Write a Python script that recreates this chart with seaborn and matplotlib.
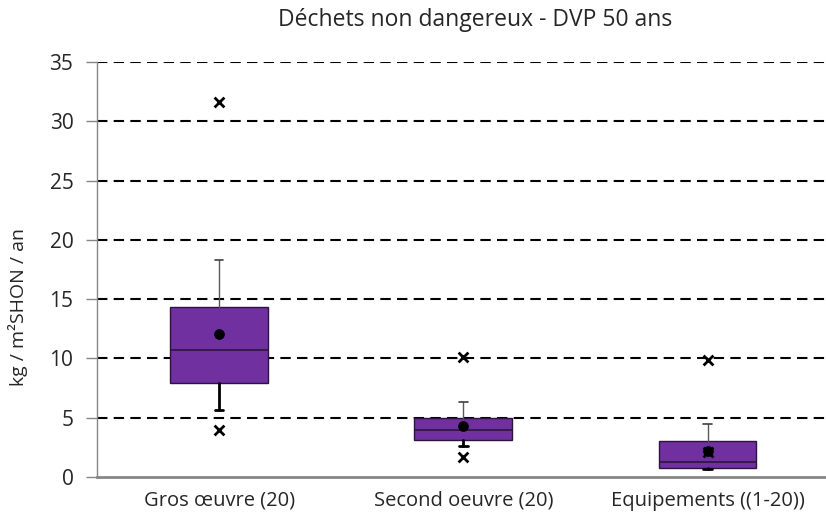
import pandas as pd
import seaborn as sns
import matplotlib.pyplot as plt

categories = ["Gros œuvre (20)", "Second oeuvre (20)", "Equipements ((1-20))"]
q1 = [7.9, 3.1, 0.8]
median = [10.7, 3.95, 1.3]
q3 = [14.35, 4.95, 3.05]
whisk_low = [5.65, 2.6, 0.65]
whisk_high = [18.3, 6.35, 4.45]
means = [12.05, 4.3, 2.2]
cross_high = [31.65, 10.1, 9.85]
cross_low = [3.95, 1.7, 2.15]
yticks = [0, 5, 10, 15, 20, 25, 30, 35]

sns.set_style("white")
plt.rcParams['font.family'] = ['Open Sans', 'DejaVu Sans']

fig = plt.figure(figsize=(8.26, 5.2), dpi=100)
ax = fig.add_axes([97 / 826, 1 - 477 / 520, 729 / 826, 415 / 520])

pos = list(range(len(categories)))

for y in yticks[1:]:
    ax.axhline(y, color="black", lw=1.5, ls=(0, (5, 3)), zorder=0)

stats = []
for i in pos:
    stats.append({"q1": q1[i], "med": median[i], "q3": q3[i],
                  "whislo": whisk_low[i], "whishi": whisk_high[i], "label": categories[i]})

bp = ax.bxp(stats, positions=pos, widths=0.4, patch_artist=True, showfliers=False,
            boxprops=dict(facecolor="#7030A0", edgecolor="#2E1240", lw=1.0),
            medianprops=dict(color="#2E1240", lw=1.2),
            capwidths=0.035)
for k, w in enumerate(bp["whiskers"]):
    if k % 2 == 0:
        w.set(color="black", lw=2)
    else:
        w.set(color="#595959", lw=1)
for k, c in enumerate(bp["caps"]):
    if k % 2 == 0:
        c.set(color="black", lw=2)
    else:
        c.set(color="#404040", lw=1.2)

df_mean = pd.DataFrame({"x": pos, "y": means})
df_cross = pd.DataFrame({"x": pos + pos, "y": cross_high + cross_low})
sns.scatterplot(x="x", y="y", data=df_mean, ax=ax, marker="o", s=50, color="black",
                edgecolor="black", zorder=5)
sns.scatterplot(x="x", y="y", data=df_cross, ax=ax, marker="x", s=50, color="black",
                linewidth=2, zorder=5)

ax.set_xlim(-0.5, 2.485)
ax.set_ylim(0, 35)
ax.set_yticks(yticks)
ax.set_yticklabels([str(v) for v in yticks], fontsize=15)
ax.set_xticks(pos)
ax.set_xticklabels(categories, fontsize=14.5)
ax.set_xticks([-0.5, 0.5, 1.5], minor=True)
ax.tick_params(axis="x", which="major", length=0, pad=10)
ax.tick_params(axis="x", which="minor", length=7, color="#868686", width=1)
ax.tick_params(axis="y", length=8, color="#868686", width=1, left=True, pad=9)
ax.set_xlabel("")
ax.set_ylabel("kg / m²SHON / an", fontsize=14)
ax.yaxis.set_label_coords(-0.094, 0.41)

for s in ["top", "right"]:
    ax.spines[s].set_visible(False)
ax.spines["left"].set_color("#868686")
ax.spines["left"].set_linewidth(1)
ax.spines["bottom"].set_color("#868686")
ax.spines["bottom"].set_linewidth(2)

fig.text(475 / 826, 1 - 20 / 520, "Déchets non dangereux - DVP 50 ans", fontsize=16.5,
         ha="center", va="center")

fig.savefig("out.png", dpi=100)
